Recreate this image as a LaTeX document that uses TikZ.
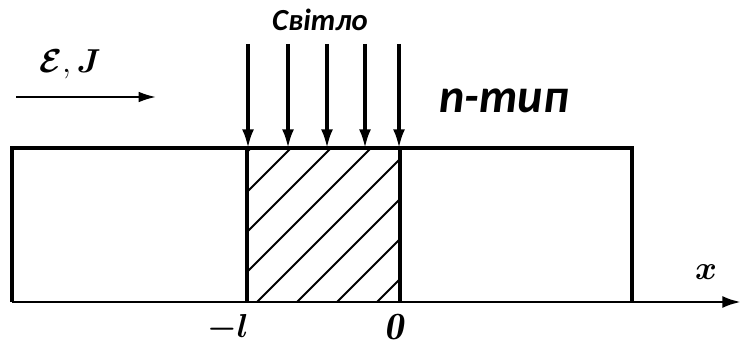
\documentclass[tikz,border=0pt]{standalone}
\usepackage{amsmath}
\usepackage{fontspec}
\newfontfamily\lblfont{Carlito}
\usetikzlibrary{arrows.meta}
\begin{document}
\begin{tikzpicture}[x=0.75pt,y=-0.75pt,
  frame/.style={line width=3pt},
  hatch/.style={line width=1.4pt},
  ray/.style={line width=2.4pt,-{Latex[length=14pt,width=9pt]}},
  axisarrow/.style={line width=2.2pt,-{Latex[length=14pt,width=9pt]}},
  fieldarrow/.style={line width=1.6pt,-{Latex[length=13pt,width=8pt]}},
  mathlbl/.style={font=\fontsize{29}{32}\selectfont}]
\useasboundingbox (0,0) rectangle (741,349);
% coordinates
\coordinate (BL) at (12,302);
\coordinate (TL) at (12,148);
\coordinate (TR) at (632,148);
\coordinate (BR) at (632,302);
\coordinate (HL) at (247,148);
\coordinate (HR) at (400,148);
\coordinate (HLb) at (247,302);
\coordinate (HRb) at (400,302);
\coordinate (AxEnd) at (741,302);
% hatching
\begin{scope}
\clip (HL) rectangle (HRb);
\foreach \s in {-150,-110,...,400}
  \draw[hatch] (247+\s,302) -- ++(160,-160);
\end{scope}
% frame
\draw[frame] (BL) -- (TL) -- (TR) -- (BR);
\draw[frame] (HL) -- (HLb);
\draw[frame] (HR) -- (HRb);
\draw[axisarrow] (BL) -- (AxEnd);
% light rays
\foreach \xx [count=\i] in {248,288,327,365,399} {
  \coordinate (s\i) at (\xx,44);
  \coordinate (e\i) at (\xx,148);
  \draw[ray] (s\i) -- (e\i);
}
% field arrow
\coordinate (f1) at (16,97);
\coordinate (f2) at (156,97);
\draw[fieldarrow] (f1) -- (f2);
% labels
\node[font=\lblfont\bfseries\itshape\fontsize{23}{26}\selectfont] (svitlo) at (320,20) {Світло};
\node[font=\lblfont\bfseries\itshape\fontsize{36}{40}\selectfont] (ntype) at (504,101) {n-тип};
\node[mathlbl] (EJ) at (70,64) {$\boldsymbol{\mathcal{E}},\boldsymbol{J}$};
\node[mathlbl] (ml) at (228,328) {$\boldsymbol{-l}$};
\node[mathlbl] (zero) at (394,327) {$\boldsymbol{\mathit{0}}$};
\node[mathlbl] (xl) at (706,272) {$\boldsymbol{x}$};
\end{tikzpicture}
\end{document}
